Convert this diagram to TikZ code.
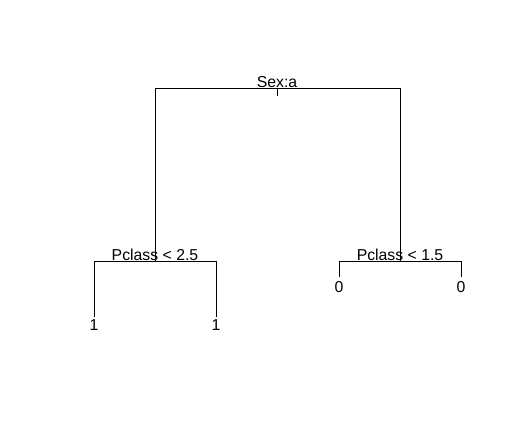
\documentclass[tikz,border=0pt]{standalone}
\usepackage{fontspec}
\setmainfont{Liberation Sans}
\begin{document}
\begin{tikzpicture}[x=1pt,y=-1pt,
  edge/.style={draw=black, line width=0.8pt, line cap=rect},
  lab/.style={inner sep=0pt, anchor=base, font=\fontsize{15.8}{18}\selectfont}]
\useasboundingbox[fill=white] (0,0) rectangle (516,425);
% junction coordinates
\coordinate (r) at (277,88);
\coordinate (rt) at (277,96);
\coordinate (rl) at (155,88);
\coordinate (rr) at (400,88);
\coordinate (a) at (155,261);
\coordinate (al) at (94,261);
\coordinate (ar) at (216,261);
\coordinate (b) at (400,261);
\coordinate (bl) at (339,261);
\coordinate (br) at (461,261);
\coordinate (l1) at (94,317);
\coordinate (l2) at (216,317);
\coordinate (l3) at (339,277);
\coordinate (l4) at (461,277);
% edges
\draw[edge] (rl) -- (rr);
\draw[edge] (r) -- (rt);
\draw[edge] (rl) -- (a);
\draw[edge] (rr) -- (b);
\draw[edge] (al) -- (ar);
\draw[edge] (bl) -- (br);
\draw[edge] (al) -- (l1);
\draw[edge] (ar) -- (l2);
\draw[edge] (bl) -- (l3);
\draw[edge] (br) -- (l4);
% labels
\node[lab] (sex) at (277,87.5) {Sex:a};
\node[lab] (pa) at (155,260.5) {Pclass < 2.5};
\node[lab] (pb) at (400,260.5) {Pclass < 1.5};
\node[lab] (n1) at (94,330) {1};
\node[lab] (n2) at (216,330) {1};
\node[lab] (n3) at (339,292.5) {0};
\node[lab] (n4) at (461,292.5) {0};
\end{tikzpicture}
\end{document}
